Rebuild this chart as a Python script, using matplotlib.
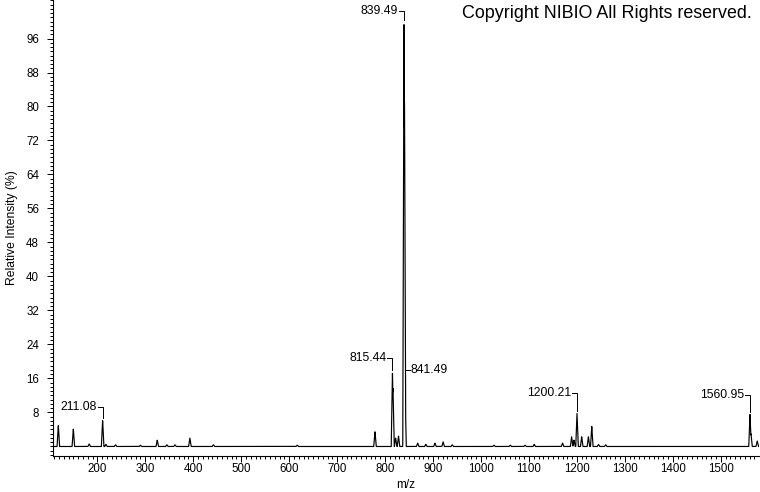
import numpy as np
import matplotlib
matplotlib.use("Agg")
import matplotlib.pyplot as plt
from matplotlib.ticker import MultipleLocator, FixedLocator

plt.rcParams['font.family'] = ['Liberation Sans', 'DejaVu Sans']

# ---- data: peak list (m/z, relative intensity %) ----
peak_mz = [118.7, 150.0, 183.0, 211.08, 218.0, 238.0, 290.0, 325.0, 345.0, 362.0,
           393.0, 442.0, 617.0, 779.0, 815.44, 816.44, 822.0, 828.0, 839.49, 840.49,
           841.49, 868.0, 885.0, 904.0, 921.0, 940.0, 1027.0, 1061.0, 1092.0, 1111.0,
           1170.0, 1189.0, 1194.0, 1200.21, 1210.0, 1224.0, 1231.0, 1245.0, 1260.0,
           1560.95, 1563.0, 1576.0]
peak_int = [5.0, 4.2, 0.6, 6.2, 0.5, 0.4, 0.3, 1.5, 0.4, 0.4,
            2.0, 0.4, 0.3, 3.5, 17.5, 14.0, 2.0, 2.5, 100.0, 83.0,
            16.0, 0.8, 0.5, 0.8, 1.1, 0.4, 0.3, 0.3, 0.3, 0.5,
            0.8, 2.3, 1.5, 7.8, 2.3, 2.3, 4.8, 0.5, 0.4,
            7.6, 3.0, 1.3]

label_mz = [211.08, 815.44, 839.49, 841.49, 1200.21, 1560.95]
label_txt = ["211.08", "815.44", "839.49", "841.49", "1200.21", "1560.95"]
label_side = ["left", "left", "left", "right", "left", "left"]
label_y = [9.4, 20.8, 102.5, 18.0, 12.6, 12.1]

x_ticks = list(range(200, 1501, 100))
y_ticks = list(range(8, 97, 8))

# ---- figure ----
W, H = 760, 492
fig = plt.figure(figsize=(W / 100, H / 100), dpi=100)
left_px, right_px, top_px, bottom_px = 53, 759, 0, 456
ax = fig.add_axes([left_px / W, (H - bottom_px) / H,
                   (right_px - left_px) / W, (bottom_px - top_px) / H])
ax.set_xlim(107.6, 1579.7)
ax.set_ylim(-2.24, 105.06)

# profile drawn from the peak list (narrow triangular peak shape)
hw = 2.6
grid = np.linspace(107.6, 1579.7, 8000)
prof = np.zeros_like(grid)
for m, h in zip(peak_mz, peak_int):
    prof = np.maximum(prof, h * np.clip(1 - np.abs(grid - m) / hw, 0, None))
ax.plot(grid, prof, color='black', lw=0.85)

for s in ['top', 'right']:
    ax.spines[s].set_visible(False)
for s in ['left', 'bottom']:
    ax.spines[s].set_linewidth(0.8)

ax.xaxis.set_major_locator(FixedLocator(x_ticks))
ax.xaxis.set_minor_locator(MultipleLocator(10))
ax.yaxis.set_major_locator(FixedLocator(y_ticks))
ax.yaxis.set_minor_locator(MultipleLocator(1))
ax.tick_params(axis='both', which='major', length=4, width=0.7, labelsize=8.3, color='black')
ax.tick_params(axis='both', which='minor', length=2.5, width=0.7, color='black')
ax.tick_params(axis='y', which='major', pad=6)
ax.tick_params(axis='x', which='major', pad=1)

ax.set_xlabel("m/z", fontsize=8.5, labelpad=3)
ax.set_ylabel("Relative Intensity (%)", fontsize=8.7, labelpad=6)

fig.text(752 / W, 1 - 13 / H, "Copyright NIBIO All Rights reserved.",
         fontsize=12.9, ha='right', va='center')

# ---- peak labels with brackets ----
fig.canvas.draw()
p0 = ax.transData.transform((0, 0))
p1 = ax.transData.transform((1, 1))
ppx = p1[0] - p0[0]   # px per m/z unit
ppy = p1[1] - p0[1]   # px per % unit
int_of = dict(zip(peak_mz, peak_int))
for m, t, side, ly in zip(label_mz, label_txt, label_side, label_y):
    h = int_of[m]
    ybot = h + 2 / ppy
    if side == 'left':
        ax.plot([m - 5 / ppx, m, m], [ly, ly, ybot], color='black', lw=0.7, clip_on=False)
        ax.text(m - 6 / ppx, ly, t, fontsize=8.8, ha='right', va='center')
    else:
        ax.plot([m, m], [ly + 4 / ppy, ybot], color='black', lw=0.7, clip_on=False)
        ax.plot([m, m + 5 / ppx], [ly, ly], color='black', lw=0.7, clip_on=False)
        ax.text(m + 6 / ppx, ly, t, fontsize=8.8, ha='left', va='center')

fig.savefig("out.png", dpi=100)
